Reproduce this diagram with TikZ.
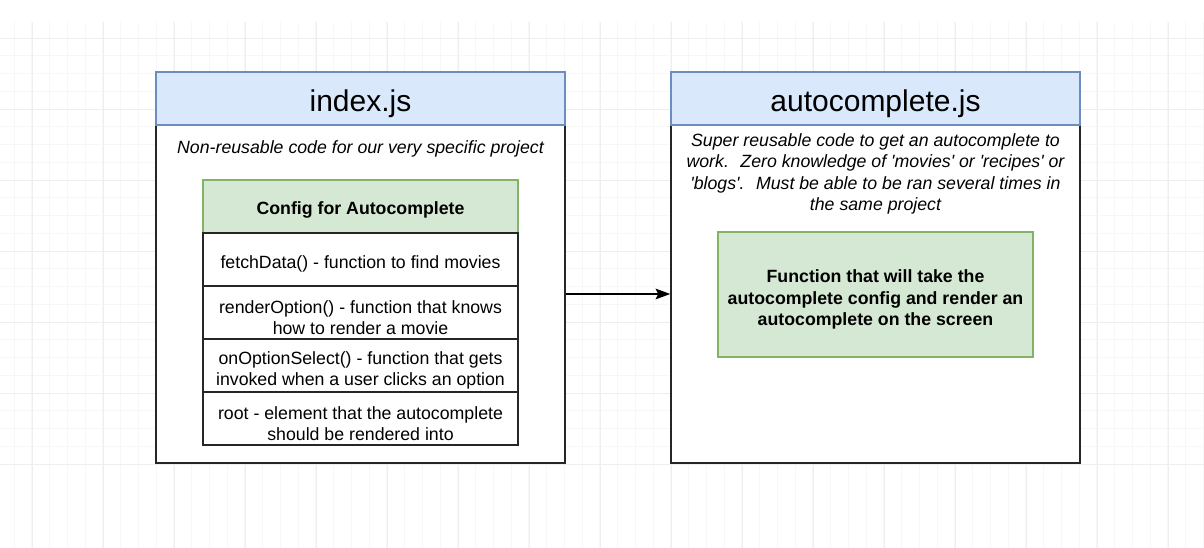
\documentclass[tikz,border=0pt]{standalone}
\usepackage{fontspec}
\setmainfont{Liberation Sans}[Ligatures=TeXOff]
\usepackage{xcolor}
\usetikzlibrary{arrows.meta,positioning}

\definecolor{hdrblue}{HTML}{DAE8FC}
\definecolor{hdrline}{HTML}{6C8EBF}
\definecolor{cfggreen}{HTML}{D5E8D4}
\definecolor{cfgline}{HTML}{82B366}
\definecolor{gridminor}{HTML}{F7F7F7}
\definecolor{gridmajor}{HTML}{EEEEEE}

% extra height on the first line, pushes the text down a little
\newcommand{\padtop}[1]{\rule{0pt}{#1}}

\tikzset{
  filehdr/.style={draw=hdrline,fill=hdrblue,line width=1.1pt,minimum width=306.75pt,minimum height=39.75pt,inner ysep=0pt,font=\fontsize{22.5}{26}\selectfont},
  filebody/.style={draw=black!85,fill=white,line width=1.1pt,minimum width=306.75pt,minimum height=253.5pt},
  cfghdr/.style={draw=cfgline,fill=cfggreen,line width=0.9pt,minimum width=236.25pt,minimum height=39.75pt,inner ysep=0pt,font=\fontsize{13.3}{16}\selectfont\bfseries},
  cfgrow/.style={draw=black!85,fill=white,line width=0.9pt,minimum width=236.25pt,minimum height=39.75pt,inner ysep=0pt,align=center,font=\fontsize{13.3}{16}\selectfont},
  note/.style={align=center,inner ysep=0pt,font=\fontsize{13.3}{16}\selectfont\itshape},
  funcbox/.style={draw=cfgline,fill=cfggreen,line width=0.9pt,minimum width=236.25pt,minimum height=93.75pt,inner ysep=0pt,align=center,font=\fontsize{13.3}{16}\selectfont\bfseries},
}

\begin{document}
\begin{tikzpicture}[x=0.75pt,y=-0.75pt]
\useasboundingbox (0,0) rectangle (1204,548);
\fill[white] (0,0) rectangle (1204,548);
% grid
\foreach \i in {0,...,67}{
  \pgfmathsetmacro\gx{14+17.75*\i}
  \draw[gridminor,line width=0.5pt] (\gx,22) -- (\gx,548);
}
\foreach \i in {0,...,29}{
  \pgfmathsetmacro\gy{464-17.75*\i}
  \ifdim\gy pt>22pt \draw[gridminor,line width=0.5pt] (0,\gy) -- (1204,\gy); \fi
}
\foreach \i in {0,...,16}{
  \pgfmathsetmacro\gx{32+71*\i}
  \draw[gridmajor,line width=0.5pt] (\gx,22) -- (\gx,548);
}
\foreach \i in {0,...,6}{
  \pgfmathsetmacro\gy{464-71*\i}
  \draw[gridmajor,line width=0.5pt] (0,\gy) -- (1204,\gy);
}

% index.js
\node[filebody] (lbody) at (360.5,294) {};
\node[filehdr] (lhdr) at (360.5,98.5) {\padtop{24pt}index.js};
\node[note] (lnote) at (360.5,147) {\padtop{12.5pt}Non-reusable code for our very specific project};
\node[cfghdr] (cfg) at (360.5,206.5) {\padtop{15.5pt}Config for Autocomplete};
\node[cfgrow] (fetch) at (360.5,259.5) {\padtop{16.5pt}fetchData() - function to find movies};
\node[cfgrow] (render) at (360.5,312.5) {\padtop{17pt}renderOption() - function that knows\\how to render a movie};
\node[cfgrow] (select) at (360.5,365.5) {\padtop{17pt}onOptionSelect() - function that gets\\invoked when a user clicks an option};
\node[cfgrow] (root) at (360.5,418.5) {\padtop{17pt}root - element that the autocomplete\\should be rendered into};

% autocomplete.js
\node[filebody] (rbody) at (875.5,294) {};
\node[filehdr] (rhdr) at (875.5,98.5) {\padtop{24pt}autocomplete.js};
\node[note] (rnote) at (875.5,172) {\padtop{12.7pt}Super reusable code to get an autocomplete to\\work.~ Zero knowledge of 'movies' or 'recipes' or\\'blogs'.~ Must be able to be ran several times in\\the same project};
\node[funcbox] (func) at (875.5,294.5) {\padtop{17.5pt}Function that will take the\\autocomplete config and render an\\autocomplete on the screen};

\draw[line width=1.1pt,-{Stealth[length=11pt,width=8pt,inset=2pt]}] (lbody.east) -- (rbody.west);
\end{tikzpicture}
\end{document}
